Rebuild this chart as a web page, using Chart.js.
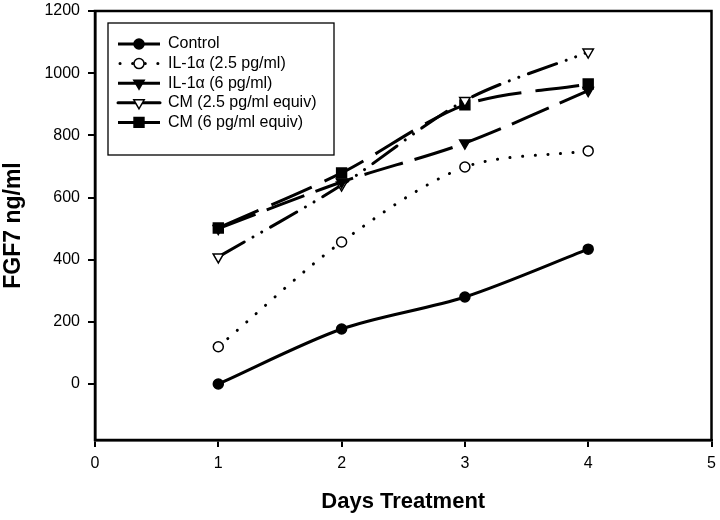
<!DOCTYPE html>
<html>
<head>
<meta charset="utf-8">
<script src="https://cdn.jsdelivr.net/npm/chart.js@4.4.1/dist/chart.umd.min.js"></script>
<style>
  html, body { margin: 0; padding: 0; background: #fff; }
  #wrap { width: 720px; height: 520px; }
</style>
</head>
<body>
<div id="wrap"><canvas id="fgfChart" width="720" height="520"></canvas></div>
<script>
// data
const days = [1, 2, 3, 4];
const control = [0, 177, 280, 434];
const il1a25 = [120, 457, 698, 750];
const il1a6 = [500, 650, 775, 944];
const cm25 = [409, 640, 912, 1068];
const cm6 = [502, 679, 898, 965];
const yTicks = [0, 200, 400, 600, 800, 1000, 1200];
const xTicks = [0, 1, 2, 3, 4, 5];

const FONT = '"Liberation Sans", Arial, sans-serif';

function pts(vals) {
  return days.map((d, i) => ({ x: d, y: vals[i] }));
}

const series = [
  { label: 'Control', data: control, dash: [], cap: 'butt', style: 'circle', r: 5, fill: '#000', rot: 0 },
  { label: 'IL-1\u03b1 (2.5 pg/ml)', data: il1a25, dash: [0.1, 12.5], cap: 'round', style: 'circle', r: 5, fill: '#fff', rot: 0 },
  { label: 'IL-1\u03b1 (6 pg/ml)', data: il1a6, dash: [40, 12], cap: 'butt', style: 'triangle', r: 6, fill: '#000', rot: 180 },
  { label: 'CM (2.5 pg/ml equiv)', data: cm25, dash: [30, 10, 0.1, 10, 0.1, 10], cap: 'round', style: 'triangle', r: 6, fill: '#fff', rot: 180 },
  { label: 'CM (6 pg/ml equiv)', data: cm6, dash: [44, 14], cap: 'butt', style: 'rect', r: 7, fill: '#000', rot: 0 }
];

// frame round the plot and the boxed legend
const framePlugin = {
  id: 'frame',
  afterDraw(chart) {
    const { ctx, chartArea: a } = chart;
    ctx.save();
    ctx.strokeStyle = '#000';
    ctx.lineWidth = 2.5;
    ctx.strokeRect(a.left, a.top, a.right - a.left, a.bottom - a.top);

    // legend
    ctx.fillStyle = '#fff';
    ctx.fillRect(108, 23, 226, 132);
    ctx.lineWidth = 1.3;
    ctx.strokeRect(108, 23, 226, 132);
    ctx.font = '16px ' + FONT;
    ctx.textBaseline = 'middle';
    series.forEach((s, i) => {
      const y = 44 + i * 19.6;
      ctx.save();
      ctx.strokeStyle = '#000';
      ctx.lineWidth = 3;
      ctx.lineCap = s.cap;
      ctx.beginPath();
      if (i === 1) {
        // dotted sample, only a few dots
        ctx.setLineDash([0.1, 12.5]);
        ctx.moveTo(120, y); ctx.lineTo(160, y);
      } else {
        ctx.setLineDash([]);
        ctx.moveTo(118, y); ctx.lineTo(160, y);
      }
      ctx.stroke();
      ctx.restore();
      ctx.fillStyle = s.fill;
      ctx.strokeStyle = '#000';
      ctx.lineWidth = 1.5;
      Chart.helpers.drawPoint(ctx, { pointStyle: s.style, radius: s.r, rotation: s.rot, borderWidth: 1.5 }, 139, y);
      ctx.fillStyle = '#000';
      ctx.fillText(s.label, 168, y);
    });
    ctx.restore();
  }
};

new Chart(document.getElementById('fgfChart'), {
  type: 'line',
  data: {
    datasets: series.map(s => ({
      label: s.label,
      data: pts(s.data),
      borderColor: '#000',
      borderWidth: 3,
      borderDash: s.dash,
      borderCapStyle: s.cap,
      tension: 0.3,
      pointStyle: s.style,
      pointRadius: s.r,
      pointRotation: s.rot,
      pointBackgroundColor: s.fill,
      pointBorderColor: '#000',
      pointBorderWidth: 1.5
    }))
  },
  options: {
    responsive: false,
    animation: false,
    layout: { padding: { top: 11, right: 7, left: 0, bottom: 0 } },
    plugins: {
      legend: { display: false },
      tooltip: { enabled: false }
    },
    scales: {
      x: {
        type: 'linear',
        min: 0,
        max: 5,
        afterBuildTicks: sc => { sc.ticks = xTicks.map(v => ({ value: v })); },
        afterFit: sc => { sc.height = 80; sc.paddingLeft = 0; sc.paddingRight = 0; },
        grid: { drawOnChartArea: false, tickLength: 7, color: '#000', lineWidth: 2 },
        border: { color: '#000', width: 2.5 },
        ticks: { color: '#000', padding: 7, font: { family: FONT, size: 16 }, callback: v => String(v) },
        title: {
          display: true,
          text: 'Days Treatment',
          color: '#000',
          padding: { top: 0, bottom: 5 },
          font: { family: FONT, size: 22, weight: 'bold' }
        }
      },
      y: {
        min: -180,
        max: 1200,
        afterBuildTicks: sc => { sc.ticks = yTicks.map(v => ({ value: v })); },
        afterFit: sc => { sc.width = 95; sc.paddingTop = 0; sc.paddingBottom = 0; },
        grid: { drawOnChartArea: false, tickLength: 7, color: '#000', lineWidth: 2 },
        border: { color: '#000', width: 2.5 },
        ticks: { color: '#000', padding: 8, font: { family: FONT, size: 16 }, callback: v => String(v) },
        title: {
          display: true,
          text: 'FGF7 ng/ml',
          color: '#000',
          padding: { top: 0, bottom: 0 },
          font: { family: FONT, size: 23, weight: 'bold' }
        }
      }
    }
  },
  plugins: [framePlugin]
});
</script>
</body>
</html>
